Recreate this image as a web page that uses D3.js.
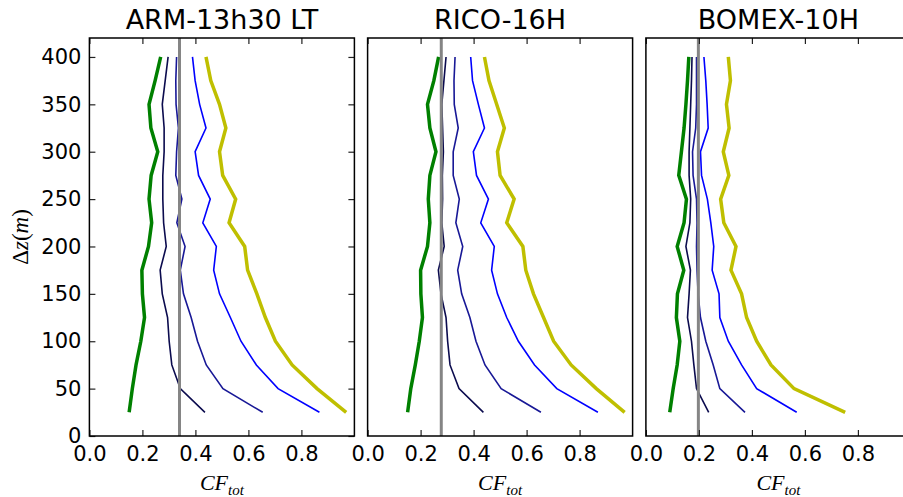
<!DOCTYPE html>
<html>
<head>
<meta charset="utf-8">
<script src="https://cdn.jsdelivr.net/npm/d3@7"></script>
<style>
  body { margin: 0; background: #fff; }
  svg { display: block; }
</style>
</head>
<body>
<div id="chart"></div>
<script>
const width = 903;
const height = 497;

// heights of the levels (m)
const zLevels = [25, 50, 75, 100, 125, 150, 175, 200, 225, 250, 275, 300, 325, 350, 375, 400];

const panelTitles = ["ARM-13h30 LT", "RICO-16H", "BOMEX-10H"];
const refValues = [0.34, 0.278, 0.198];

// CF_tot per level, panel by panel (bottom to top)
const armGreen  = [0.150, 0.162, 0.176, 0.194, 0.208, 0.200, 0.198, 0.223, 0.235, 0.225, 0.233, 0.258, 0.232, 0.225, 0.248, 0.269];
const armDark   = [0.436, 0.343, 0.311, 0.301, 0.295, 0.275, 0.267, 0.290, 0.280, 0.277, 0.277, 0.282, 0.282, 0.275, 0.286, 0.297];
const armNavy   = [0.654, 0.504, 0.441, 0.408, 0.384, 0.355, 0.343, 0.361, 0.330, 0.349, 0.326, 0.329, 0.336, 0.327, 0.326, 0.329];
const armBlue   = [0.868, 0.712, 0.630, 0.572, 0.532, 0.491, 0.469, 0.479, 0.428, 0.456, 0.412, 0.399, 0.440, 0.416, 0.399, 0.389];
const armYellow = [0.969, 0.859, 0.765, 0.702, 0.664, 0.632, 0.597, 0.586, 0.527, 0.552, 0.503, 0.491, 0.515, 0.491, 0.458, 0.440];

const ricoGreen  = [0.151, 0.163, 0.180, 0.195, 0.207, 0.201, 0.200, 0.226, 0.235, 0.229, 0.235, 0.258, 0.235, 0.226, 0.250, 0.268];
const ricoDark   = [0.437, 0.345, 0.311, 0.302, 0.296, 0.277, 0.267, 0.289, 0.280, 0.283, 0.282, 0.286, 0.283, 0.280, 0.288, 0.296];
const ricoNavy   = [0.654, 0.504, 0.443, 0.409, 0.386, 0.355, 0.340, 0.359, 0.333, 0.346, 0.323, 0.323, 0.342, 0.327, 0.326, 0.330];
const ricoBlue   = [0.869, 0.714, 0.630, 0.569, 0.525, 0.490, 0.468, 0.478, 0.427, 0.456, 0.411, 0.399, 0.441, 0.418, 0.396, 0.389];
const ricoYellow = [0.970, 0.863, 0.768, 0.702, 0.664, 0.626, 0.597, 0.586, 0.525, 0.553, 0.500, 0.490, 0.516, 0.487, 0.458, 0.441];

const bomexGreen  = [0.090, 0.103, 0.118, 0.128, 0.115, 0.119, 0.143, 0.118, 0.144, 0.153, 0.124, 0.134, 0.144, 0.151, 0.157, 0.162];
const bomexDark   = [0.237, 0.191, 0.181, 0.172, 0.157, 0.163, 0.168, 0.151, 0.166, 0.169, 0.163, 0.163, 0.166, 0.169, 0.172, 0.174];
const bomexNavy   = [0.374, 0.279, 0.254, 0.226, 0.206, 0.197, 0.193, 0.191, 0.193, 0.191, 0.178, 0.176, 0.188, 0.191, 0.191, 0.191];
const bomexBlue   = [0.569, 0.418, 0.361, 0.311, 0.279, 0.276, 0.250, 0.256, 0.245, 0.232, 0.210, 0.206, 0.235, 0.231, 0.226, 0.219];
const bomexYellow = [0.752, 0.559, 0.472, 0.418, 0.380, 0.361, 0.321, 0.340, 0.294, 0.282, 0.313, 0.292, 0.314, 0.304, 0.319, 0.311];

const panels = [
  [armGreen, armDark, armNavy, armBlue, armYellow],
  [ricoGreen, ricoDark, ricoNavy, ricoBlue, ricoYellow],
  [bomexGreen, bomexDark, bomexNavy, bomexBlue, bomexYellow]
];

const lineColors = ["#008000", "#0b0b4e", "#181896", "#0000ff", "#bfbf00"];
const lineWidths = [3.5, 1.6, 1.6, 1.6, 3.5];

const xTicks = [0, 0.2, 0.4, 0.6, 0.8];
const yTicks = [0, 50, 100, 150, 200, 250, 300, 350, 400];

const panelLeft = [89.4, 367.6, 645.9];
const panelWidth = 265;
const plotTop = 38;
const plotBottom = 436;

const svg = d3.select("#chart")
  .append("svg")
  .attr("width", width)
  .attr("height", height)
  .style("font-family", "'DejaVu Sans', sans-serif");

const yScale = d3.scaleLinear()
  .domain([0, 420])
  .range([plotBottom, plotTop]);

panels.forEach((series, i) => {
  const xScale = d3.scaleLinear()
    .domain([0, 1])
    .range([0, panelWidth]);

  const g = svg.append("g")
    .attr("transform", `translate(${panelLeft[i]}, 0)`);

  const line = d3.line()
    .x(d => xScale(d[0]))
    .y(d => yScale(d[1]));

  series.forEach((vals, k) => {
    g.append("path")
      .datum(vals.map((v, j) => [v, zLevels[j]]))
      .attr("d", line)
      .attr("fill", "none")
      .attr("stroke", lineColors[k])
      .attr("stroke-width", lineWidths[k])
      .attr("stroke-linejoin", "miter");
  });

  // reference line
  g.append("line")
    .attr("x1", xScale(refValues[i]))
    .attr("x2", xScale(refValues[i]))
    .attr("y1", plotTop)
    .attr("y2", plotBottom)
    .attr("stroke", "#858585")
    .attr("stroke-width", 3);

  // axes, ticks pointing inward
  g.append("g")
    .attr("transform", `translate(0, ${plotBottom})`)
    .call(d3.axisBottom(xScale).tickValues(xTicks).tickFormat(d3.format(".1f"))
      .tickSize(-6).tickSizeOuter(0).tickPadding(10));

  g.append("g")
    .attr("transform", `translate(0, ${plotTop})`)
    .call(d3.axisTop(xScale).tickValues(xTicks).tickFormat("")
      .tickSize(-6).tickSizeOuter(0));

  if (i === 0) {
    g.append("g")
      .call(d3.axisLeft(yScale).tickValues(yTicks)
        .tickSize(-6).tickSizeOuter(0).tickPadding(8));

    g.append("g")
      .attr("transform", `translate(${panelWidth}, 0)`)
      .call(d3.axisRight(yScale).tickValues(yTicks).tickFormat("")
        .tickSize(-6).tickSizeOuter(0));
  }

  g.selectAll(".domain").remove();
  g.selectAll(".tick line").attr("stroke", "#222").attr("stroke-width", 1.2);
  g.selectAll(".tick text")
    .attr("font-size", 21)
    .attr("font-family", "'DejaVu Sans', sans-serif")
    .attr("fill", "#000");

  // frame
  g.append("rect")
    .attr("x", 0)
    .attr("y", plotTop)
    .attr("width", panelWidth)
    .attr("height", plotBottom - plotTop)
    .attr("fill", "none")
    .attr("stroke", "#000")
    .attr("stroke-width", 1.5);

  // title
  g.append("text")
    .attr("x", panelWidth / 2)
    .attr("y", 29)
    .attr("text-anchor", "middle")
    .attr("font-size", 27)
    .text(panelTitles[i]);

  // x label CF_tot
  const xl = g.append("text")
    .attr("x", panelWidth / 2)
    .attr("y", 490)
    .attr("text-anchor", "middle")
    .attr("font-family", "'Liberation Serif', serif")
    .attr("font-style", "italic")
    .attr("font-size", 22);
  xl.append("tspan").text("CF");
  xl.append("tspan").attr("dy", 5).attr("font-size", 15).text("tot");
});

// y label Δz(m)
const yl = svg.append("text")
  .attr("transform", "translate(28, 237) rotate(-90)")
  .attr("text-anchor", "middle")
  .attr("font-family", "'Liberation Serif', serif")
  .attr("font-size", 23);
yl.append("tspan").text("Δ");
yl.append("tspan").attr("font-style", "italic").text("z");
yl.append("tspan").text("(");
yl.append("tspan").attr("font-style", "italic").text("m");
yl.append("tspan").text(")");
</script>
</body>
</html>
